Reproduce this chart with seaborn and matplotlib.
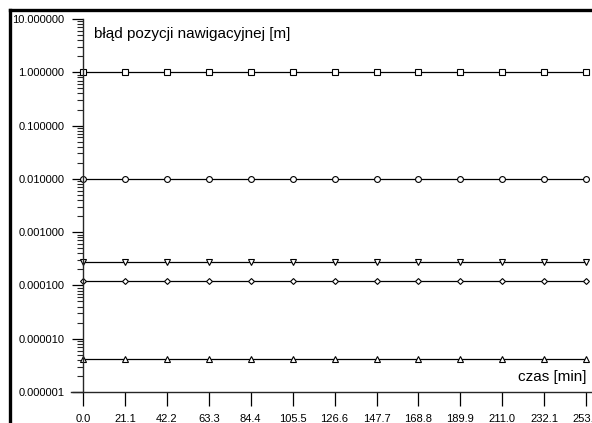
import numpy as np
import pandas as pd
import matplotlib
matplotlib.use("Agg")
import matplotlib.pyplot as plt
from matplotlib.lines import Line2D
from matplotlib.ticker import LogLocator, FixedLocator, FuncFormatter, NullFormatter
import seaborn as sns

# Time axis [min] and navigation position error series [m]
time_min = [0.0, 21.1, 42.2, 63.3, 84.4, 105.5, 126.6, 147.7, 168.8, 189.9, 211.0, 232.1, 253.2]
err_square = [1.0] * 13
err_circle = [0.01] * 13
err_tri_down = [2.7e-4] * 13
err_diamond = [1.22e-4] * 13
err_tri_up = [4.1e-6] * 13

series = [
    ("s", err_square, 4.6),
    ("o", err_circle, 4.2),
    ("v", err_tri_down, 4.8),
    ("D", err_diamond, 3.0),
    ("^", err_tri_up, 4.8),
]

sns.set_style("ticks")
plt.rcParams["font.family"] = ["Liberation Sans", "DejaVu Sans"]

W, H = 592, 423
fig = plt.figure(figsize=(W / 100, H / 100), dpi=100)
ax = fig.add_axes([71 / W, (H - 392) / H, (W - 71) / W, (392 - 19) / H])

for marker, vals, ms in series:
    df = pd.DataFrame({"t": time_min, "err": vals})
    sns.lineplot(data=df, x="t", y="err", ax=ax, color="black", linewidth=0.9,
                 marker=marker, markersize=ms, markerfacecolor="white",
                 markeredgecolor="black", markeredgewidth=0.8, clip_on=False)

ax.set_yscale("log")
ax.set_ylim(1e-6, 1e1)
ax.set_xlim(-6, 256.1)
ax.set_xlabel("")
ax.set_ylabel("")

for side in ("top", "right"):
    ax.spines[side].set_visible(False)
ax.spines["left"].set_position(("data", 0))
ax.spines["left"].set_linewidth(1.0)
ax.spines["bottom"].set_linewidth(1.0)

ax.xaxis.set_major_locator(FixedLocator(time_min))
ax.set_xticklabels([f"{t:.1f}" for t in time_min])
ax.yaxis.set_major_locator(LogLocator(base=10, numticks=20))
ax.yaxis.set_minor_locator(LogLocator(base=10, subs=np.arange(2, 10), numticks=20))
ax.yaxis.set_major_formatter(FuncFormatter(lambda v, p: f"{v:.6f}"))
ax.yaxis.set_minor_formatter(NullFormatter())

ax.tick_params(axis="x", direction="out", length=10, width=0.9, pad=6,
               labelsize=8, colors="black")
ax.tick_params(axis="y", which="major", direction="out", length=8, width=0.9,
               pad=5.5, labelsize=8, colors="black")
ax.tick_params(axis="y", which="minor", direction="out", length=4.5, width=0.8)

ax.text(5.5, 5.3, "błąd pozycji nawigacyjnej [m]", ha="left", va="center",
        fontsize=11, color="black")
ax.text(253.2, 1.9e-6, "czas [min]", ha="right", va="center",
        fontsize=11, color="black")

# Frame around the figure
fig.add_artist(Line2D([10 / W, 10 / W], [0, 1 - 10.5 / H], transform=fig.transFigure,
                      color="black", linewidth=2.4, solid_capstyle="projecting"))
fig.add_artist(Line2D([10 / W, 1.0], [1 - 10.5 / H, 1 - 10.5 / H], transform=fig.transFigure,
                      color="black", linewidth=2.4, solid_capstyle="projecting"))

fig.savefig("out.png", dpi=100)
